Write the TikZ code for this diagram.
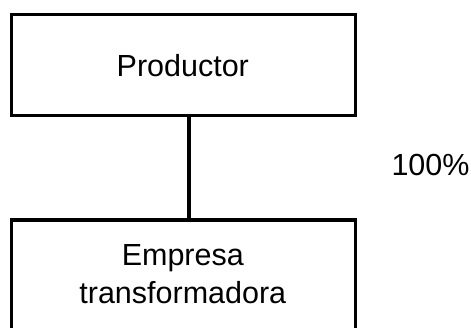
\documentclass[tikz,border=0pt]{standalone}
\usepackage{fontspec}
\setmainfont{Liberation Sans}
\begin{document}
\begin{tikzpicture}[x=1pt,y=1pt,
  boxst/.style={draw=black,line width=3.2pt,rectangle,inner sep=0pt},
  txt/.style={font=\fontsize{30.5}{38}\selectfont,anchor=base,inner sep=0pt,align=center}]
\useasboundingbox (0,0) rectangle (471,-327);
\node[boxst,minimum width=343.5pt,minimum height=101pt] (top) at (183.4,-65) {};
\node[boxst,minimum width=343.5pt,minimum height=140pt] (bot) at (183.4,-290) {};
\node[txt] (toptxt) at (182.8,-76) {Productor};
\node[txt] (bottxt1) at (182.8,-265) {Empresa};
\node[txt] (bottxt2) at (182.8,-303) {transformadora};
\node[txt] (pct) at (430.5,-175) {100\%};
\draw[line width=3.2pt] ([xshift=5.6pt]top.south) -- ([xshift=5.6pt]bot.north);
\end{tikzpicture}
\end{document}
